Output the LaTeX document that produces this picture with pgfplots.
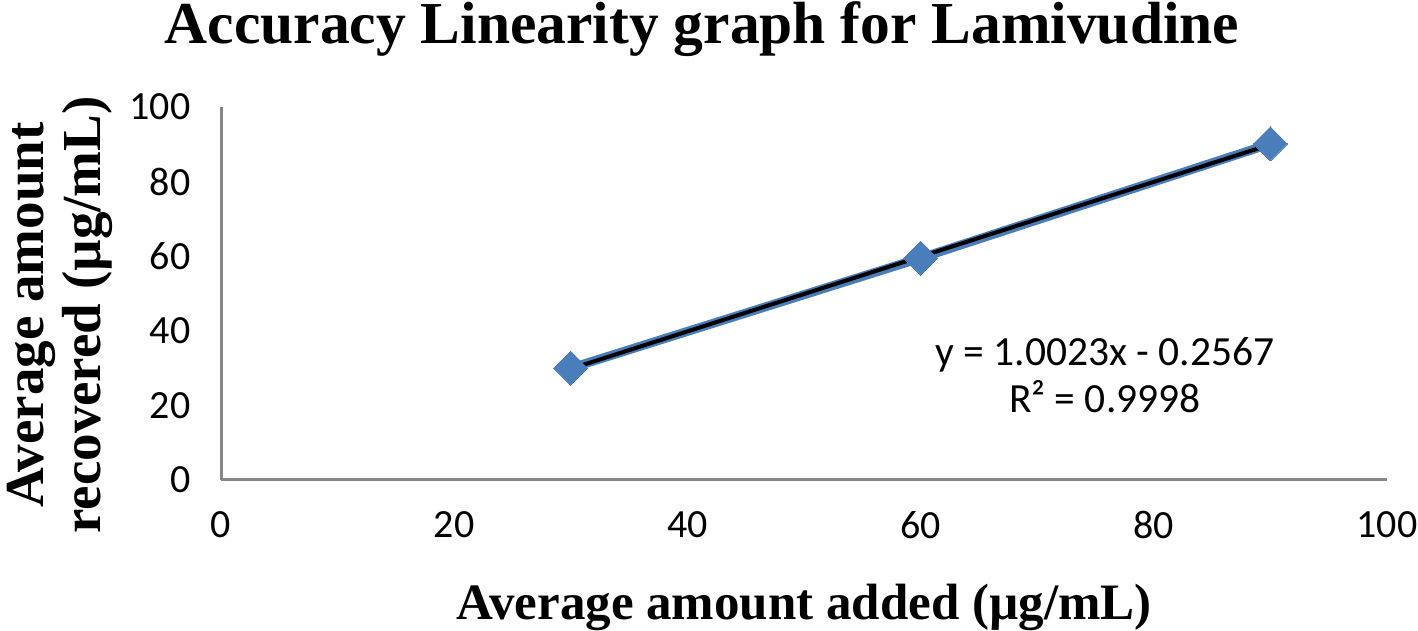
\documentclass[border=0pt]{standalone}
\usepackage{fontspec}
\setmainfont{Liberation Serif}
\newfontfamily\carlito{Carlito}
\usepackage{pgfplots}
\pgfplotsset{compat=1.18}
\definecolor{exblue}{HTML}{4A7EBB}
\definecolor{axgray}{HTML}{868686}
\begin{document}
\begin{tikzpicture}[x=1pt,y=1pt]
\useasboundingbox (0,0) rectangle (1418,631);
\begin{axis}[at={(221pt,151pt)}, anchor=south west, scale only axis,
  width=1166pt, height=373pt,
  xmin=0, xmax=100, ymin=0, ymax=100,
  xtick={0,20,...,100}, ytick={0,20,...,100},
  axis x line*=bottom, axis y line*=left,
  axis line style={axgray, line width=3pt, -},
  major tick length=0pt,
  tick label style={font=\carlito\fontsize{40}{42}\selectfont},
  /pgf/number format/assume math mode=true,
  xticklabel style={yshift=-28pt},
  yticklabel style={xshift=-27pt},
  clip=false]
\addplot[exblue, line width=9pt, mark=square*, mark size=12pt,
  mark options={rotate=45, line width=0pt, fill=exblue, draw=exblue}]
  coordinates {(30,30.0) (60,59.5) (90,90.14)};
\addplot[black, line width=4pt, no marks]
  coordinates {(30,29.81) (90,89.95)};
\node[anchor=base, font=\carlito\fontsize{41.5}{48}\selectfont] at (axis cs:75.8,30.8) {y = 1.0023x - 0.2567};
\node[anchor=base, font=\carlito\fontsize{41.5}{48}\selectfont] at (axis cs:75.8,18.2) {R² = 0.9998};
\end{axis}
\node[anchor=base, font=\bfseries\fontsize{59.5}{64}\selectfont] at (702,587) {Accuracy Linearity graph for Lamivudine};
\node[anchor=base, font=\bfseries\fontsize{51}{56}\selectfont] at (804,11) {Average amount added (µg/mL)};
\node[rotate=90, anchor=base, font=\bfseries\fontsize{55}{60}\selectfont] at (43,316) {Average amount};
\node[rotate=90, anchor=base, font=\bfseries\fontsize{55}{60}\selectfont] at (100,316) {recovered (µg/mL)};
\end{tikzpicture}
\end{document}
